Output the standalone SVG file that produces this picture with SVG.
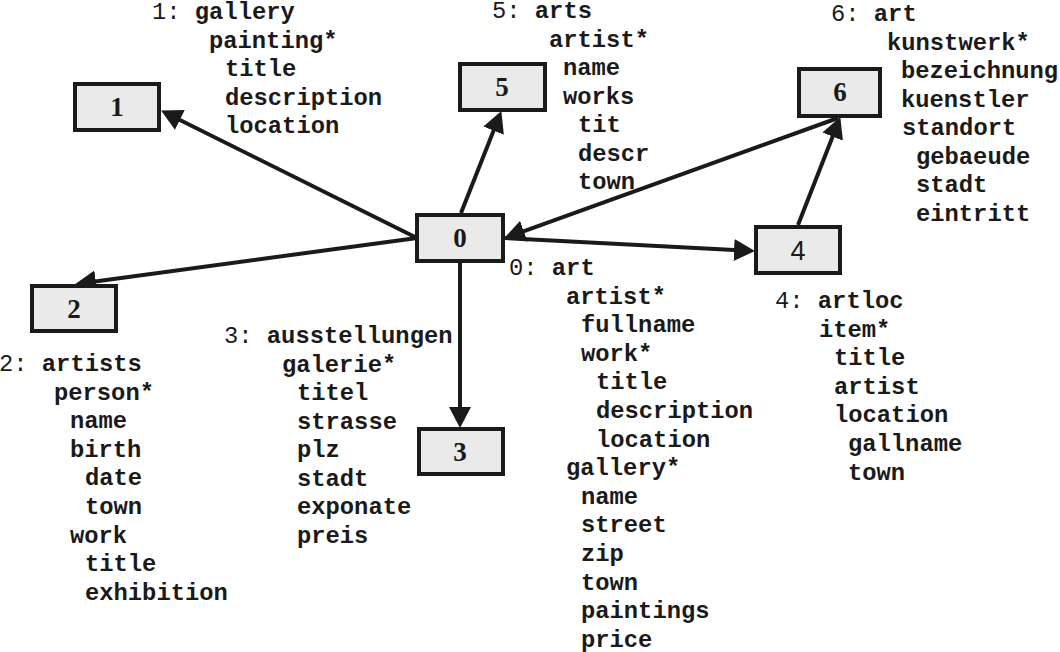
<svg xmlns="http://www.w3.org/2000/svg" width="1060" height="652" viewBox="0 0 1060 652">
<style>
.box{fill:#e9eae9;stroke:#1a1a1a;stroke-width:4}
.lbl{font-family:"Liberation Serif",serif;font-weight:bold;font-size:27px;fill:#1a1a1a;text-anchor:middle}
.lbls{font-family:"Liberation Sans",sans-serif;font-size:27px;fill:#1a1a1a;text-anchor:middle}
.t{font-family:"Liberation Mono",monospace;font-weight:bold;font-size:23.8px;fill:#1a1a1a}
.n{font-weight:normal}
.c{stroke:#1a1a1a;stroke-width:4;fill:none;marker-end:url(#ah)}
</style>
<defs>
<marker id="ah" markerUnits="userSpaceOnUse" markerWidth="22" markerHeight="22" refX="10" refY="11" orient="auto" viewBox="0 0 22 22">
<path d="M0,0 L21,11 L0,22 z" fill="#1a1a1a"/>
</marker>
</defs>
<rect width="1060" height="652" fill="#ffffff"/>
<g id="connectors">
<line class="c" x1="417" y1="238" x2="170.9" y2="115.5"/>
<line class="c" x1="417" y1="238" x2="85.9" y2="282.7"/>
<line class="c" x1="460" y1="263" x2="460" y2="417"/>
<line class="c" x1="461" y1="213" x2="497.3" y2="121.3"/>
<line class="c" x1="505" y1="238" x2="744" y2="250.5"/>
<line class="c" x1="798" y1="225" x2="836.3" y2="127.3"/>
<line class="c" x1="838" y1="118" x2="514.4" y2="234.6"/>
</g>
<g id="node1">
<rect class="box" x="75" y="84" width="84" height="46"/>
<text class="lbl" x="117" y="116">1</text>
<text class="t"><tspan x="152" y="19"><tspan class="n">1:</tspan> gallery</tspan><tspan x="209" y="47.5">painting*</tspan><tspan x="225" y="76">title</tspan><tspan x="225" y="104.5">description</tspan><tspan x="225" y="133">location</tspan></text>
</g>
<g id="node5">
<rect class="box" x="460" y="64" width="85" height="46"/>
<text class="lbl" x="502" y="96">5</text>
<text class="t"><tspan x="492" y="18"><tspan class="n">5:</tspan> arts</tspan><tspan x="549" y="46.5">artist*</tspan><tspan x="563" y="75">name</tspan><tspan x="563" y="103.5">works</tspan><tspan x="578" y="132">tit</tspan><tspan x="578" y="160.5">descr</tspan><tspan x="578" y="189">town</tspan></text>
</g>
<g id="node6">
<rect class="box" x="799" y="69" width="81" height="47"/>
<text class="lbl" x="840" y="101">6</text>
<text class="t"><tspan x="831" y="21"><tspan class="n">6:</tspan> art</tspan><tspan x="887" y="49.5">kunstwerk*</tspan><tspan x="901" y="78">bezeichnung</tspan><tspan x="901" y="106.5">kuenstler</tspan><tspan x="902" y="135">standort</tspan><tspan x="916" y="163.5">gebaeude</tspan><tspan x="916" y="192">stadt</tspan><tspan x="916" y="220.5">eintritt</tspan></text>
</g>
<g id="node0">
<rect class="box" x="417" y="215" width="86" height="46"/>
<text class="lbl" x="460" y="247">0</text>
<text class="t"><tspan x="509" y="275"><tspan class="n">0:</tspan> art</tspan><tspan x="566" y="303.6">artist*</tspan><tspan x="581" y="332.2">fullname</tspan><tspan x="581" y="360.8">work*</tspan><tspan x="596" y="389.4">title</tspan><tspan x="596" y="418">description</tspan><tspan x="596" y="446.6">location</tspan><tspan x="566" y="475.2">gallery*</tspan><tspan x="581" y="503.8">name</tspan><tspan x="581" y="532.4">street</tspan><tspan x="581" y="561">zip</tspan><tspan x="581" y="589.6">town</tspan><tspan x="581" y="618.2">paintings</tspan><tspan x="581" y="646.8">price</tspan></text>
</g>
<g id="node4">
<rect class="box" x="756" y="227" width="84" height="46"/>
<text class="lbls" x="798" y="260">4</text>
<text class="t"><tspan x="775" y="308"><tspan class="n">4:</tspan> artloc</tspan><tspan x="819" y="336.6">item*</tspan><tspan x="834" y="365.2">title</tspan><tspan x="834" y="393.8">artist</tspan><tspan x="834" y="422.4">location</tspan><tspan x="848" y="451">gallname</tspan><tspan x="848" y="479.6">town</tspan></text>
</g>
<g id="node3">
<rect class="box" x="419" y="429" width="84" height="45"/>
<text class="lbl" x="460" y="461">3</text>
<text class="t"><tspan x="224" y="343"><tspan class="n">3:</tspan> ausstellungen</tspan><tspan x="282" y="371.5">galerie*</tspan><tspan x="297" y="400">titel</tspan><tspan x="297" y="428.5">strasse</tspan><tspan x="297" y="457">plz</tspan><tspan x="297" y="485.5">stadt</tspan><tspan x="297" y="514">exponate</tspan><tspan x="297" y="542.5">preis</tspan></text>
</g>
<g id="node2">
<rect class="box" x="32" y="286" width="84" height="45"/>
<text class="lbl" x="74" y="318">2</text>
<text class="t"><tspan x="-1" y="371"><tspan class="n">2:</tspan> artists</tspan><tspan x="54" y="399.6">person*</tspan><tspan x="70" y="428.2">name</tspan><tspan x="70" y="456.8">birth</tspan><tspan x="85" y="485.4">date</tspan><tspan x="85" y="514">town</tspan><tspan x="70" y="542.6">work</tspan><tspan x="85" y="571.2">title</tspan><tspan x="85" y="599.8">exhibition</tspan></text>
</g>
</svg>
